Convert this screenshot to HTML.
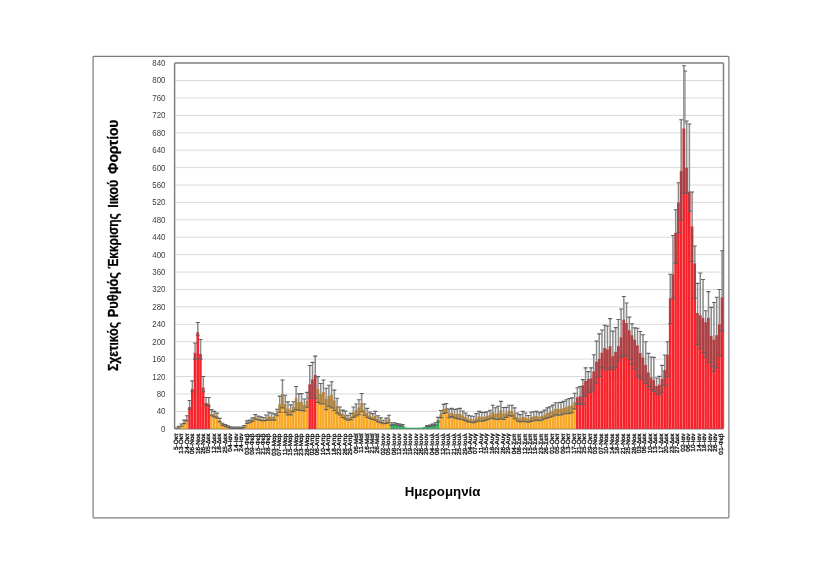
<!DOCTYPE html>
<html><head><meta charset="utf-8"><style>
html,body{margin:0;padding:0;background:#fff;width:825px;height:583px;overflow:hidden}
svg{display:block;will-change:transform}
</style></head><body>
<svg width="825" height="583" viewBox="0 0 825 583">
<rect x="0" y="0" width="825" height="583" fill="#fff"/>
<rect x="93.1" y="56.4" width="635.8" height="461.5" fill="none" stroke="#7c7c7c" stroke-width="1.2" rx="0.8"/>
<g stroke="#dadada" stroke-width="1"><line x1="174.6" y1="411.39" x2="723.5" y2="411.39"/><line x1="174.6" y1="393.97" x2="723.5" y2="393.97"/><line x1="174.6" y1="376.56" x2="723.5" y2="376.56"/><line x1="174.6" y1="359.14" x2="723.5" y2="359.14"/><line x1="174.6" y1="341.73" x2="723.5" y2="341.73"/><line x1="174.6" y1="324.31" x2="723.5" y2="324.31"/><line x1="174.6" y1="306.90" x2="723.5" y2="306.90"/><line x1="174.6" y1="289.49" x2="723.5" y2="289.49"/><line x1="174.6" y1="272.07" x2="723.5" y2="272.07"/><line x1="174.6" y1="254.66" x2="723.5" y2="254.66"/><line x1="174.6" y1="237.24" x2="723.5" y2="237.24"/><line x1="174.6" y1="219.83" x2="723.5" y2="219.83"/><line x1="174.6" y1="202.41" x2="723.5" y2="202.41"/><line x1="174.6" y1="185.00" x2="723.5" y2="185.00"/><line x1="174.6" y1="167.59" x2="723.5" y2="167.59"/><line x1="174.6" y1="150.17" x2="723.5" y2="150.17"/><line x1="174.6" y1="132.76" x2="723.5" y2="132.76"/><line x1="174.6" y1="115.34" x2="723.5" y2="115.34"/><line x1="174.6" y1="97.93" x2="723.5" y2="97.93"/><line x1="174.6" y1="80.51" x2="723.5" y2="80.51"/></g>
<rect x="174.6" y="63.1" width="548.90" height="365.70" fill="none" stroke="#7f7f7f" stroke-width="1.5" rx="1"/>
<g><rect x="174.60" y="428.36" width="2.53" height="0.44" fill="#F9A823"/><rect x="177.33" y="427.06" width="2.53" height="1.74" fill="#F9A823"/><rect x="180.06" y="425.32" width="2.53" height="3.48" fill="#F9A823"/><rect x="182.79" y="422.27" width="2.53" height="6.53" fill="#F9A823"/><rect x="185.52" y="419.22" width="2.53" height="9.58" fill="#F9A823"/><rect x="188.25" y="407.03" width="2.53" height="21.77" fill="#F7222A"/><rect x="190.99" y="388.75" width="2.53" height="40.05" fill="#F7222A"/><rect x="193.72" y="352.61" width="2.53" height="76.19" fill="#F7222A"/><rect x="196.45" y="332.15" width="2.53" height="96.65" fill="#F7222A"/><rect x="199.18" y="353.92" width="2.53" height="74.88" fill="#F7222A"/><rect x="201.91" y="387.44" width="2.53" height="41.36" fill="#F7222A"/><rect x="204.64" y="402.68" width="2.53" height="26.12" fill="#F7222A"/><rect x="207.37" y="403.55" width="2.53" height="25.25" fill="#F7222A"/><rect x="210.10" y="414.00" width="2.53" height="14.80" fill="#F9A823"/><rect x="212.83" y="414.10" width="2.53" height="14.70" fill="#F9A823"/><rect x="215.56" y="415.52" width="2.53" height="13.28" fill="#F9A823"/><rect x="218.29" y="420.09" width="2.53" height="8.71" fill="#F9A823"/><rect x="221.02" y="424.23" width="2.53" height="4.57" fill="#F9A823"/><rect x="223.76" y="425.43" width="2.53" height="3.37" fill="#F9A823"/><rect x="226.49" y="426.49" width="2.53" height="2.31" fill="#F9A823"/><rect x="229.22" y="427.55" width="2.53" height="1.25" fill="#F9A823"/><rect x="231.95" y="427.71" width="2.53" height="1.09" fill="#F9A823"/><rect x="234.68" y="427.71" width="2.53" height="1.09" fill="#F9A823"/><rect x="237.41" y="427.71" width="2.53" height="1.09" fill="#F9A823"/><rect x="240.14" y="427.71" width="2.53" height="1.09" fill="#F9A823"/><rect x="242.87" y="426.38" width="2.53" height="2.42" fill="#F9A823"/><rect x="245.60" y="422.17" width="2.53" height="6.63" fill="#F9A823"/><rect x="248.33" y="421.40" width="2.53" height="7.40" fill="#F9A823"/><rect x="251.06" y="419.63" width="2.53" height="9.17" fill="#F9A823"/><rect x="253.79" y="416.83" width="2.53" height="11.97" fill="#F9A823"/><rect x="256.53" y="417.88" width="2.53" height="10.92" fill="#F9A823"/><rect x="259.26" y="418.65" width="2.53" height="10.15" fill="#F9A823"/><rect x="261.99" y="419.21" width="2.53" height="9.59" fill="#F9A823"/><rect x="264.72" y="417.76" width="2.53" height="11.04" fill="#F9A823"/><rect x="267.45" y="416.17" width="2.53" height="12.63" fill="#F9A823"/><rect x="270.18" y="416.56" width="2.53" height="12.24" fill="#F9A823"/><rect x="272.91" y="416.98" width="2.53" height="11.82" fill="#F9A823"/><rect x="275.64" y="412.47" width="2.53" height="16.33" fill="#F9A823"/><rect x="278.37" y="404.16" width="2.53" height="24.64" fill="#F9A823"/><rect x="281.10" y="393.97" width="2.53" height="34.83" fill="#F9A823"/><rect x="283.83" y="403.87" width="2.53" height="24.93" fill="#F9A823"/><rect x="286.56" y="408.36" width="2.53" height="20.44" fill="#F9A823"/><rect x="289.30" y="409.60" width="2.53" height="19.20" fill="#F9A823"/><rect x="292.03" y="406.73" width="2.53" height="22.07" fill="#F9A823"/><rect x="294.76" y="398.11" width="2.53" height="30.69" fill="#F9A823"/><rect x="297.49" y="402.07" width="2.53" height="26.73" fill="#F9A823"/><rect x="300.22" y="402.03" width="2.53" height="26.77" fill="#F9A823"/><rect x="302.95" y="405.00" width="2.53" height="23.80" fill="#F9A823"/><rect x="305.68" y="400.71" width="2.53" height="28.09" fill="#F9A823"/><rect x="308.41" y="384.30" width="2.53" height="44.50" fill="#F7222A"/><rect x="311.14" y="379.26" width="2.53" height="49.54" fill="#F7222A"/><rect x="313.87" y="374.82" width="2.53" height="53.98" fill="#F7222A"/><rect x="316.60" y="388.80" width="2.53" height="40.00" fill="#F9A823"/><rect x="319.33" y="393.75" width="2.53" height="35.05" fill="#F9A823"/><rect x="322.07" y="392.01" width="2.53" height="36.79" fill="#F9A823"/><rect x="324.80" y="398.93" width="2.53" height="29.87" fill="#F9A823"/><rect x="327.53" y="395.71" width="2.53" height="33.09" fill="#F9A823"/><rect x="330.26" y="394.84" width="2.53" height="33.96" fill="#F9A823"/><rect x="332.99" y="400.30" width="2.53" height="28.50" fill="#F9A823"/><rect x="335.72" y="405.73" width="2.53" height="23.07" fill="#F9A823"/><rect x="338.45" y="410.95" width="2.53" height="17.85" fill="#F9A823"/><rect x="341.18" y="413.84" width="2.53" height="14.96" fill="#F9A823"/><rect x="343.91" y="414.99" width="2.53" height="13.81" fill="#F9A823"/><rect x="346.64" y="417.72" width="2.53" height="11.08" fill="#F9A823"/><rect x="349.37" y="416.50" width="2.53" height="12.30" fill="#F9A823"/><rect x="352.10" y="412.16" width="2.53" height="16.64" fill="#F9A823"/><rect x="354.84" y="409.94" width="2.53" height="18.86" fill="#F9A823"/><rect x="357.57" y="407.27" width="2.53" height="21.53" fill="#F9A823"/><rect x="360.30" y="402.68" width="2.53" height="26.12" fill="#F9A823"/><rect x="363.03" y="409.57" width="2.53" height="19.23" fill="#F9A823"/><rect x="365.76" y="412.84" width="2.53" height="15.96" fill="#F9A823"/><rect x="368.49" y="415.31" width="2.53" height="13.49" fill="#F9A823"/><rect x="371.22" y="416.56" width="2.53" height="12.24" fill="#F9A823"/><rect x="373.95" y="415.74" width="2.53" height="13.06" fill="#F9A823"/><rect x="376.68" y="418.79" width="2.53" height="10.01" fill="#F9A823"/><rect x="379.41" y="420.25" width="2.53" height="8.55" fill="#F9A823"/><rect x="382.14" y="421.98" width="2.53" height="6.82" fill="#F9A823"/><rect x="384.88" y="420.85" width="2.53" height="7.95" fill="#F9A823"/><rect x="387.61" y="419.00" width="2.53" height="9.80" fill="#F9A823"/><rect x="390.34" y="423.94" width="2.53" height="4.86" fill="#2BAA5E"/><rect x="393.07" y="423.79" width="2.53" height="5.01" fill="#2BAA5E"/><rect x="395.80" y="424.42" width="2.53" height="4.38" fill="#2BAA5E"/><rect x="398.53" y="425.01" width="2.53" height="3.79" fill="#2BAA5E"/><rect x="401.26" y="425.32" width="2.53" height="3.48" fill="#2BAA5E"/><rect x="403.99" y="427.28" width="2.53" height="1.52" fill="#2BAA5E"/><rect x="406.72" y="427.60" width="2.53" height="1.20" fill="#2BAA5E"/><rect x="409.45" y="427.69" width="2.53" height="1.11" fill="#2BAA5E"/><rect x="412.18" y="427.64" width="2.53" height="1.16" fill="#2BAA5E"/><rect x="414.91" y="427.60" width="2.53" height="1.20" fill="#2BAA5E"/><rect x="417.65" y="427.55" width="2.53" height="1.25" fill="#2BAA5E"/><rect x="420.38" y="427.51" width="2.53" height="1.29" fill="#2BAA5E"/><rect x="423.11" y="426.92" width="2.53" height="1.88" fill="#2BAA5E"/><rect x="425.84" y="426.11" width="2.53" height="2.69" fill="#2BAA5E"/><rect x="428.57" y="425.66" width="2.53" height="3.14" fill="#2BAA5E"/><rect x="431.30" y="425.10" width="2.53" height="3.70" fill="#2BAA5E"/><rect x="434.03" y="424.01" width="2.53" height="4.79" fill="#2BAA5E"/><rect x="436.76" y="419.68" width="2.53" height="9.12" fill="#2BAA5E"/><rect x="439.49" y="414.04" width="2.53" height="14.76" fill="#F9A823"/><rect x="442.22" y="408.98" width="2.53" height="19.82" fill="#F9A823"/><rect x="444.95" y="408.12" width="2.53" height="20.68" fill="#F9A823"/><rect x="447.68" y="413.42" width="2.53" height="15.38" fill="#F9A823"/><rect x="450.42" y="412.47" width="2.53" height="16.33" fill="#F9A823"/><rect x="453.15" y="413.71" width="2.53" height="15.09" fill="#F9A823"/><rect x="455.88" y="413.78" width="2.53" height="15.02" fill="#F9A823"/><rect x="458.61" y="413.78" width="2.53" height="15.02" fill="#F9A823"/><rect x="461.34" y="415.26" width="2.53" height="13.54" fill="#F9A823"/><rect x="464.07" y="416.91" width="2.53" height="11.89" fill="#F9A823"/><rect x="466.80" y="418.57" width="2.53" height="10.23" fill="#F9A823"/><rect x="469.53" y="419.16" width="2.53" height="9.64" fill="#F9A823"/><rect x="472.26" y="419.45" width="2.53" height="9.35" fill="#F9A823"/><rect x="474.99" y="417.68" width="2.53" height="11.12" fill="#F9A823"/><rect x="477.72" y="416.17" width="2.53" height="12.63" fill="#F9A823"/><rect x="480.45" y="416.85" width="2.53" height="11.95" fill="#F9A823"/><rect x="483.19" y="416.50" width="2.53" height="12.30" fill="#F9A823"/><rect x="485.92" y="415.69" width="2.53" height="13.11" fill="#F9A823"/><rect x="488.65" y="414.50" width="2.53" height="14.30" fill="#F9A823"/><rect x="491.38" y="411.82" width="2.53" height="16.98" fill="#F9A823"/><rect x="494.11" y="413.49" width="2.53" height="15.31" fill="#F9A823"/><rect x="496.84" y="412.79" width="2.53" height="16.01" fill="#F9A823"/><rect x="499.57" y="410.08" width="2.53" height="18.72" fill="#F9A823"/><rect x="502.30" y="413.47" width="2.53" height="15.33" fill="#F9A823"/><rect x="505.03" y="412.41" width="2.53" height="16.39" fill="#F9A823"/><rect x="507.76" y="410.48" width="2.53" height="18.32" fill="#F9A823"/><rect x="510.49" y="410.73" width="2.53" height="18.07" fill="#F9A823"/><rect x="513.22" y="413.27" width="2.53" height="15.53" fill="#F9A823"/><rect x="515.96" y="417.05" width="2.53" height="11.75" fill="#F9A823"/><rect x="518.69" y="418.34" width="2.53" height="10.46" fill="#F9A823"/><rect x="521.42" y="416.39" width="2.53" height="12.41" fill="#F9A823"/><rect x="524.15" y="417.38" width="2.53" height="11.42" fill="#F9A823"/><rect x="526.88" y="418.84" width="2.53" height="9.96" fill="#F9A823"/><rect x="529.61" y="416.83" width="2.53" height="11.97" fill="#F9A823"/><rect x="532.34" y="416.27" width="2.53" height="12.53" fill="#F9A823"/><rect x="535.07" y="415.74" width="2.53" height="13.06" fill="#F9A823"/><rect x="537.80" y="416.77" width="2.53" height="12.03" fill="#F9A823"/><rect x="540.53" y="415.91" width="2.53" height="12.89" fill="#F9A823"/><rect x="543.26" y="414.38" width="2.53" height="14.42" fill="#F9A823"/><rect x="546.00" y="412.91" width="2.53" height="15.89" fill="#F9A823"/><rect x="548.73" y="412.00" width="2.53" height="16.80" fill="#F9A823"/><rect x="551.46" y="410.68" width="2.53" height="18.12" fill="#F9A823"/><rect x="554.19" y="408.77" width="2.53" height="20.03" fill="#F9A823"/><rect x="556.92" y="408.90" width="2.53" height="19.90" fill="#F9A823"/><rect x="559.65" y="408.66" width="2.53" height="20.14" fill="#F9A823"/><rect x="562.38" y="407.69" width="2.53" height="21.11" fill="#F9A823"/><rect x="565.11" y="406.74" width="2.53" height="22.06" fill="#F9A823"/><rect x="567.84" y="405.94" width="2.53" height="22.86" fill="#F9A823"/><rect x="570.57" y="405.29" width="2.53" height="23.51" fill="#F9A823"/><rect x="573.30" y="401.70" width="2.53" height="27.10" fill="#F9A823"/><rect x="576.03" y="397.30" width="2.53" height="31.50" fill="#F7222A"/><rect x="578.77" y="396.15" width="2.53" height="32.65" fill="#F7222A"/><rect x="581.50" y="385.26" width="2.53" height="43.54" fill="#F7222A"/><rect x="584.23" y="380.91" width="2.53" height="47.89" fill="#F7222A"/><rect x="586.96" y="379.03" width="2.53" height="49.77" fill="#F7222A"/><rect x="589.69" y="378.30" width="2.53" height="50.50" fill="#F7222A"/><rect x="592.42" y="371.33" width="2.53" height="57.47" fill="#F7222A"/><rect x="595.15" y="361.56" width="2.53" height="67.24" fill="#F7222A"/><rect x="597.88" y="359.03" width="2.53" height="69.77" fill="#F7222A"/><rect x="600.61" y="352.61" width="2.53" height="76.19" fill="#F7222A"/><rect x="603.34" y="347.82" width="2.53" height="80.98" fill="#F7222A"/><rect x="606.07" y="349.29" width="2.53" height="79.51" fill="#F7222A"/><rect x="608.80" y="346.08" width="2.53" height="82.72" fill="#F7222A"/><rect x="611.54" y="356.19" width="2.53" height="72.61" fill="#F7222A"/><rect x="614.27" y="351.87" width="2.53" height="76.93" fill="#F7222A"/><rect x="617.00" y="346.08" width="2.53" height="82.72" fill="#F7222A"/><rect x="619.73" y="337.32" width="2.53" height="91.48" fill="#F7222A"/><rect x="622.46" y="319.53" width="2.53" height="109.27" fill="#F7222A"/><rect x="625.19" y="323.05" width="2.53" height="105.75" fill="#F7222A"/><rect x="627.92" y="330.18" width="2.53" height="98.62" fill="#F7222A"/><rect x="630.65" y="335.16" width="2.53" height="93.64" fill="#F7222A"/><rect x="633.38" y="339.58" width="2.53" height="89.22" fill="#F7222A"/><rect x="636.11" y="345.28" width="2.53" height="83.52" fill="#F7222A"/><rect x="638.84" y="352.86" width="2.53" height="75.94" fill="#F7222A"/><rect x="641.57" y="357.40" width="2.53" height="71.40" fill="#F7222A"/><rect x="644.31" y="364.80" width="2.53" height="64.00" fill="#F7222A"/><rect x="647.04" y="372.37" width="2.53" height="56.43" fill="#F7222A"/><rect x="649.77" y="377.34" width="2.53" height="51.46" fill="#F7222A"/><rect x="652.50" y="380.04" width="2.53" height="48.76" fill="#F7222A"/><rect x="655.23" y="385.86" width="2.53" height="42.94" fill="#F7222A"/><rect x="657.96" y="384.48" width="2.53" height="44.32" fill="#F7222A"/><rect x="660.69" y="378.87" width="2.53" height="49.93" fill="#F7222A"/><rect x="663.42" y="369.98" width="2.53" height="58.82" fill="#F7222A"/><rect x="666.15" y="354.79" width="2.53" height="74.01" fill="#F7222A"/><rect x="668.88" y="298.19" width="2.53" height="130.61" fill="#F7222A"/><rect x="671.61" y="274.25" width="2.53" height="154.55" fill="#F7222A"/><rect x="674.34" y="232.89" width="2.53" height="195.91" fill="#F7222A"/><rect x="677.08" y="202.41" width="2.53" height="226.39" fill="#F7222A"/><rect x="679.81" y="171.07" width="2.53" height="257.73" fill="#F7222A"/><rect x="682.54" y="128.40" width="2.53" height="300.40" fill="#F7222A"/><rect x="685.27" y="167.59" width="2.53" height="261.21" fill="#F7222A"/><rect x="688.00" y="191.53" width="2.53" height="237.27" fill="#F7222A"/><rect x="690.73" y="226.36" width="2.53" height="202.44" fill="#F7222A"/><rect x="693.46" y="263.36" width="2.53" height="165.44" fill="#F7222A"/><rect x="696.19" y="313.00" width="2.53" height="115.80" fill="#F7222A"/><rect x="698.92" y="315.17" width="2.53" height="113.63" fill="#F7222A"/><rect x="701.65" y="317.78" width="2.53" height="111.02" fill="#F7222A"/><rect x="704.38" y="322.14" width="2.53" height="106.66" fill="#F7222A"/><rect x="707.11" y="317.78" width="2.53" height="111.02" fill="#F7222A"/><rect x="709.85" y="335.63" width="2.53" height="93.17" fill="#F7222A"/><rect x="712.58" y="339.55" width="2.53" height="89.25" fill="#F7222A"/><rect x="715.31" y="335.20" width="2.53" height="93.60" fill="#F7222A"/><rect x="718.04" y="324.31" width="2.53" height="104.49" fill="#F7222A"/><rect x="720.77" y="297.32" width="2.53" height="131.48" fill="#F7222A"/></g>
<path d="M175.97 428.80V428.36M178.70 427.93V427.06M181.43 426.19V425.32M184.16 423.58V422.27M186.89 420.96V419.22M189.62 409.21V407.03M192.35 391.79V388.75M195.08 359.14V352.61M197.81 335.20V332.15M200.54 359.14V353.92M203.27 391.79V387.44M206.00 404.86V402.68M208.74 406.16V403.55M211.47 415.74V414.00M214.20 416.83V414.10M216.93 417.92V415.52M219.66 421.83V420.09M222.39 425.14V424.23M225.12 426.23V425.43M227.85 427.22V426.49M230.58 428.21V427.55M233.31 428.36V427.71M236.04 428.36V427.71M238.77 428.36V427.71M241.51 428.36V427.71M244.24 427.19V426.38M246.97 423.48V422.17M249.70 422.70V421.40M252.43 421.35V419.63M255.16 419.22V416.83M257.89 419.82V417.88M260.62 420.39V418.65M263.35 420.95V419.21M266.08 420.55V417.76M268.81 420.09V416.17M271.55 420.09V416.56M274.28 420.09V416.98M277.01 415.74V412.47M279.74 412.22V404.16M282.47 407.90V393.97M285.20 412.51V403.87M287.93 414.87V408.36M290.66 414.87V409.60M293.39 411.67V406.73M296.12 409.64V398.11M298.85 410.31V402.07M301.58 410.51V402.03M304.32 410.94V405.00M307.05 407.23V400.71M309.78 398.32V384.30M312.51 398.32V379.26M315.24 398.32V374.82M317.97 402.36V388.80M320.70 403.98V393.75M323.43 403.98V392.01M326.16 409.60V398.93M328.89 406.16V395.71M331.62 407.90V394.84M334.35 410.52V400.30M337.09 413.13V405.73M339.82 414.87V410.95M342.55 417.56V413.84M345.28 418.85V414.99M348.01 420.24V417.72M350.74 419.59V416.50M353.47 417.37V412.16M356.20 415.93V409.94M358.93 414.74V407.27M361.66 411.82V402.68M364.39 415.18V409.57M367.12 417.28V412.84M369.86 418.57V415.31M372.59 419.54V416.56M375.32 420.09V415.74M378.05 421.83V418.79M380.78 422.67V420.25M383.51 423.71V421.98M386.24 423.56V420.85M388.97 422.70V419.00M391.70 425.18V423.94M394.43 424.88V423.79M397.16 425.30V424.42M399.89 425.88V425.01M402.63 426.19V425.32M427.20 426.58V426.11M429.93 426.36V425.66M432.66 426.04V425.10M435.40 425.32V424.01M438.13 421.97V419.68M440.86 417.61V414.04M443.59 413.55V408.98M446.32 412.69V408.12M449.05 417.74V413.42M451.78 416.61V412.47M454.51 417.84V413.71M457.24 418.64V413.78M459.97 419.22V413.78M462.70 419.59V415.26M465.44 420.65V416.91M468.17 421.83V418.57M470.90 422.31V419.16M473.63 422.60V419.45M476.36 421.72V417.68M479.09 420.96V416.17M481.82 421.30V416.85M484.55 420.67V416.50M487.28 419.59V415.69M490.01 418.71V414.50M492.74 418.35V411.82M495.47 419.19V413.49M498.21 419.33V412.79M500.94 418.79V410.08M503.67 419.43V413.47M506.40 417.42V412.41M509.13 415.67V410.48M511.86 416.17V410.73M514.59 418.72V413.27M517.32 421.07V417.05M520.05 422.05V418.34M522.78 421.40V416.39M525.51 421.73V417.38M528.24 422.21V418.84M530.98 421.40V416.83M533.71 420.73V416.27M536.44 420.09V415.74M539.17 420.78V416.77M541.90 419.93V415.91M544.63 418.65V414.38M547.36 417.92V412.91M550.09 417.23V412.00M552.82 416.25V410.68M555.55 414.87V408.77M558.28 415.12V408.90M561.01 414.97V408.66M563.75 414.00V407.69M566.48 413.73V406.74M569.21 413.34V405.94M571.94 412.69V405.29M574.67 408.90V401.70M577.40 404.42V397.30M580.13 404.42V396.15M582.86 404.42V385.26M585.59 396.15V380.91M588.32 392.38V379.03M591.05 391.79V378.30M593.78 389.18V371.33M596.52 383.00V361.56M599.25 376.41V359.03M601.98 367.85V352.61M604.71 370.03V347.82M607.44 369.45V349.29M610.17 367.85V346.08M612.90 369.64V356.19M615.63 367.11V351.87M618.36 361.32V346.08M621.09 357.23V337.32M623.82 355.66V319.53M626.55 356.47V323.05M629.29 359.74V330.18M632.02 364.52V335.16M634.75 369.11V339.58M637.48 376.12V345.28M640.21 378.09V352.86M642.94 380.04V357.40M645.67 383.52V364.80M648.40 386.62V372.37M651.13 389.49V377.34M653.86 391.36V380.04M656.59 394.44V385.86M659.33 394.68V384.48M662.06 392.24V378.87M664.79 385.13V369.98M667.52 376.56V354.79M670.25 323.44V298.19M672.98 298.19V274.25M675.71 263.36V232.89M678.44 232.89V202.41M681.17 219.83V171.07M683.90 193.27V128.40M686.63 193.27V167.59M689.36 211.12V191.53M692.10 261.19V226.36M694.83 298.19V263.36M697.56 344.34V313.00M700.29 348.69V315.17M703.02 352.61V317.78M705.75 356.97V322.14M708.48 362.19V317.78M711.21 366.54V335.63M713.94 371.33V339.55M716.67 367.85V335.20M719.40 355.66V324.31M722.13 330.84V297.32" stroke="#606060" stroke-opacity="0.5" stroke-width="2.5" fill="none"/>
<path d="M175.97 428.36V427.93M178.70 427.06V426.19M181.43 425.32V424.01M184.16 422.27V420.09M186.89 419.22V415.74M189.62 407.03V400.50M192.35 388.75V380.91M195.08 352.61V343.03M197.81 332.15V322.57M200.54 353.92V339.55M203.27 387.44V376.56M206.00 402.68V397.45M208.74 403.55V397.45M211.47 414.00V409.64M214.20 414.10V411.38M216.93 415.52V413.13M219.66 420.09V418.35M222.39 424.23V423.31M225.12 425.43V424.62M227.85 426.49V425.75M230.58 427.55V426.89M233.31 427.71V427.06M236.04 427.71V427.06M238.77 427.71V427.06M241.51 427.71V427.06M244.24 426.38V425.56M246.97 422.17V420.87M249.70 421.40V420.09M252.43 419.63V417.90M255.16 416.83V414.43M257.89 417.88V415.93M260.62 418.65V416.90M263.35 419.21V417.47M266.08 417.76V414.98M268.81 416.17V412.26M271.55 416.56V413.03M274.28 416.98V413.87M277.01 412.47V409.21M279.74 404.16V396.11M282.47 393.97V380.04M285.20 403.87V395.24M287.93 408.36V401.86M290.66 409.60V404.86M293.39 406.73V401.79M296.12 398.11V386.57M298.85 402.07V393.84M301.58 402.03V393.54M304.32 405.00V399.07M307.05 400.71V392.38M309.78 384.30V365.43M312.51 379.26V362.39M315.24 374.82V356.10M317.97 388.80V376.60M320.70 393.75V383.52M323.43 392.01V380.04M326.16 398.93V388.27M328.89 395.71V385.26M331.62 394.84V381.78M334.35 400.30V390.08M337.09 405.73V398.32M339.82 410.95V407.03M342.55 413.84V410.11M345.28 414.99V411.13M348.01 417.72V415.20M350.74 416.50V413.41M353.47 412.16V406.95M356.20 409.94V403.96M358.93 407.27V399.80M361.66 402.68V393.54M364.39 409.57V403.96M367.12 412.84V408.41M369.86 415.31V412.05M372.59 416.56V413.58M375.32 415.74V411.39M378.05 418.79V415.74M380.78 420.25V417.83M383.51 421.98V420.26M386.24 420.85V418.14M388.97 419.00V415.30M391.70 423.94V422.70M394.43 423.79V422.70M397.16 424.42V423.55M399.89 425.01V424.14M402.63 425.32V424.45M427.20 426.11V425.63M429.93 425.66V424.96M432.66 425.10V424.16M435.40 424.01V422.70M438.13 419.68V417.39M440.86 414.04V410.47M443.59 408.98V404.41M446.32 408.12V403.55M449.05 413.42V409.09M451.78 412.47V408.34M454.51 413.71V409.57M457.24 413.78V408.92M459.97 413.78V408.34M462.70 415.26V410.93M465.44 416.91V413.17M468.17 418.57V415.30M470.90 419.16V416.02M473.63 419.45V416.29M476.36 417.68V413.65M479.09 416.17V411.39M481.82 416.85V412.40M484.55 416.50V412.33M487.28 415.69V411.79M490.01 414.50V410.30M492.74 411.82V405.29M495.47 413.49V407.80M498.21 412.79V406.26M500.94 410.08V401.37M503.67 413.47V407.51M506.40 412.41V407.40M509.13 410.48V405.29M511.86 410.73V405.29M514.59 413.27V407.83M517.32 417.05V413.04M520.05 418.34V414.63M522.78 416.39V411.39M525.51 417.38V413.03M528.24 418.84V415.48M530.98 416.83V412.26M533.71 416.27V411.81M536.44 415.74V411.39M539.17 416.77V412.76M541.90 415.91V411.89M544.63 414.38V410.10M547.36 412.91V407.90M550.09 412.00V406.76M552.82 410.68V405.10M555.55 408.77V402.68M558.28 408.90V402.68M561.01 408.66V402.35M563.75 407.69V401.37M566.48 406.74V399.76M569.21 405.94V398.54M571.94 405.29V397.89M574.67 401.70V393.30M577.40 397.30V387.72M580.13 396.15V386.57M582.86 385.26V379.60M585.59 380.91V367.85M588.32 379.03V371.62M591.05 378.30V367.85M593.78 371.33V354.79M596.52 361.56V341.15M599.25 359.03V333.83M601.98 352.61V329.97M604.71 347.82V325.19M607.44 349.29V326.02M610.17 346.08V318.65M612.90 356.19V331.17M615.63 351.87V327.63M618.36 346.08V319.53M621.09 337.32V309.02M623.82 319.53V296.45M626.55 323.05V302.95M629.29 330.18V317.17M632.02 335.16V323.81M634.75 339.58V327.90M637.48 345.28V328.23M640.21 352.86V331.52M642.94 357.40V334.76M645.67 364.80V341.73M648.40 372.37V353.42M651.13 377.34V356.99M653.86 380.04V357.40M656.59 385.86V377.93M659.33 384.48V376.41M662.06 378.87V365.40M664.79 369.98V355.07M667.52 354.79V341.73M670.25 298.19V274.25M672.98 274.25V235.50M675.71 232.89V209.82M678.44 202.41V182.82M681.17 171.07V119.70M683.90 128.40V65.71M686.63 167.59V121.00M689.36 191.53V124.05M692.10 226.36V191.97M694.83 263.36V245.95M697.56 313.00V283.39M700.29 315.17V272.94M703.02 317.78V279.47M705.75 322.14V310.82M708.48 317.78V291.66M711.21 335.63V307.34M713.94 339.55V302.55M716.67 335.20V297.32M719.40 324.31V289.49M722.13 297.32V250.74" stroke="#8a8a8a" stroke-width="1.5" fill="none"/>
<path d="M173.97 427.93h4.0M176.70 426.19h4.0M176.70 427.93h4.0M179.43 424.01h4.0M179.43 426.19h4.0M182.16 420.09h4.0M182.16 423.58h4.0M184.89 415.74h4.0M184.89 420.96h4.0M187.62 400.50h4.0M187.62 409.21h4.0M190.35 380.91h4.0M190.35 391.79h4.0M193.08 343.03h4.0M193.08 359.14h4.0M195.81 322.57h4.0M195.81 335.20h4.0M198.54 339.55h4.0M198.54 359.14h4.0M201.27 376.56h4.0M201.27 391.79h4.0M204.00 397.45h4.0M204.00 404.86h4.0M206.74 397.45h4.0M206.74 406.16h4.0M209.47 409.64h4.0M209.47 415.74h4.0M212.20 411.38h4.0M212.20 416.83h4.0M214.93 413.13h4.0M214.93 417.92h4.0M217.66 418.35h4.0M217.66 421.83h4.0M220.39 423.31h4.0M220.39 425.14h4.0M223.12 424.62h4.0M223.12 426.23h4.0M225.85 425.75h4.0M225.85 427.22h4.0M228.58 426.89h4.0M228.58 428.21h4.0M231.31 427.06h4.0M231.31 428.36h4.0M234.04 427.06h4.0M234.04 428.36h4.0M236.77 427.06h4.0M236.77 428.36h4.0M239.51 427.06h4.0M239.51 428.36h4.0M242.24 425.56h4.0M242.24 427.19h4.0M244.97 420.87h4.0M244.97 423.48h4.0M247.70 420.09h4.0M247.70 422.70h4.0M250.43 417.90h4.0M250.43 421.35h4.0M253.16 414.43h4.0M253.16 419.22h4.0M255.89 415.93h4.0M255.89 419.82h4.0M258.62 416.90h4.0M258.62 420.39h4.0M261.35 417.47h4.0M261.35 420.95h4.0M264.08 414.98h4.0M264.08 420.55h4.0M266.81 412.26h4.0M266.81 420.09h4.0M269.55 413.03h4.0M269.55 420.09h4.0M272.28 413.87h4.0M272.28 420.09h4.0M275.01 409.21h4.0M275.01 415.74h4.0M277.74 396.11h4.0M277.74 412.22h4.0M280.47 380.04h4.0M280.47 407.90h4.0M283.20 395.24h4.0M283.20 412.51h4.0M285.93 401.86h4.0M285.93 414.87h4.0M288.66 404.86h4.0M288.66 414.87h4.0M291.39 401.79h4.0M291.39 411.67h4.0M294.12 386.57h4.0M294.12 409.64h4.0M296.85 393.84h4.0M296.85 410.31h4.0M299.58 393.54h4.0M299.58 410.51h4.0M302.32 399.07h4.0M302.32 410.94h4.0M305.05 392.38h4.0M305.05 407.23h4.0M307.78 365.43h4.0M307.78 398.32h4.0M310.51 362.39h4.0M310.51 398.32h4.0M313.24 356.10h4.0M313.24 398.32h4.0M315.97 376.60h4.0M315.97 402.36h4.0M318.70 383.52h4.0M318.70 403.98h4.0M321.43 380.04h4.0M321.43 403.98h4.0M324.16 388.27h4.0M324.16 409.60h4.0M326.89 385.26h4.0M326.89 406.16h4.0M329.62 381.78h4.0M329.62 407.90h4.0M332.35 390.08h4.0M332.35 410.52h4.0M335.09 398.32h4.0M335.09 413.13h4.0M337.82 407.03h4.0M337.82 414.87h4.0M340.55 410.11h4.0M340.55 417.56h4.0M343.28 411.13h4.0M343.28 418.85h4.0M346.01 415.20h4.0M346.01 420.24h4.0M348.74 413.41h4.0M348.74 419.59h4.0M351.47 406.95h4.0M351.47 417.37h4.0M354.20 403.96h4.0M354.20 415.93h4.0M356.93 399.80h4.0M356.93 414.74h4.0M359.66 393.54h4.0M359.66 411.82h4.0M362.39 403.96h4.0M362.39 415.18h4.0M365.12 408.41h4.0M365.12 417.28h4.0M367.86 412.05h4.0M367.86 418.57h4.0M370.59 413.58h4.0M370.59 419.54h4.0M373.32 411.39h4.0M373.32 420.09h4.0M376.05 415.74h4.0M376.05 421.83h4.0M378.78 417.83h4.0M378.78 422.67h4.0M381.51 420.26h4.0M381.51 423.71h4.0M384.24 418.14h4.0M384.24 423.56h4.0M386.97 415.30h4.0M386.97 422.70h4.0M389.70 422.70h4.0M389.70 425.18h4.0M392.43 422.70h4.0M392.43 424.88h4.0M395.16 423.55h4.0M395.16 425.30h4.0M397.89 424.14h4.0M397.89 425.88h4.0M400.63 424.45h4.0M400.63 426.19h4.0M425.20 425.63h4.0M425.20 426.58h4.0M427.93 424.96h4.0M427.93 426.36h4.0M430.66 424.16h4.0M430.66 426.04h4.0M433.40 422.70h4.0M433.40 425.32h4.0M436.13 417.39h4.0M436.13 421.97h4.0M438.86 410.47h4.0M438.86 417.61h4.0M441.59 404.41h4.0M441.59 413.55h4.0M444.32 403.55h4.0M444.32 412.69h4.0M447.05 409.09h4.0M447.05 417.74h4.0M449.78 408.34h4.0M449.78 416.61h4.0M452.51 409.57h4.0M452.51 417.84h4.0M455.24 408.92h4.0M455.24 418.64h4.0M457.97 408.34h4.0M457.97 419.22h4.0M460.70 410.93h4.0M460.70 419.59h4.0M463.44 413.17h4.0M463.44 420.65h4.0M466.17 415.30h4.0M466.17 421.83h4.0M468.90 416.02h4.0M468.90 422.31h4.0M471.63 416.29h4.0M471.63 422.60h4.0M474.36 413.65h4.0M474.36 421.72h4.0M477.09 411.39h4.0M477.09 420.96h4.0M479.82 412.40h4.0M479.82 421.30h4.0M482.55 412.33h4.0M482.55 420.67h4.0M485.28 411.79h4.0M485.28 419.59h4.0M488.01 410.30h4.0M488.01 418.71h4.0M490.74 405.29h4.0M490.74 418.35h4.0M493.47 407.80h4.0M493.47 419.19h4.0M496.21 406.26h4.0M496.21 419.33h4.0M498.94 401.37h4.0M498.94 418.79h4.0M501.67 407.51h4.0M501.67 419.43h4.0M504.40 407.40h4.0M504.40 417.42h4.0M507.13 405.29h4.0M507.13 415.67h4.0M509.86 405.29h4.0M509.86 416.17h4.0M512.59 407.83h4.0M512.59 418.72h4.0M515.32 413.04h4.0M515.32 421.07h4.0M518.05 414.63h4.0M518.05 422.05h4.0M520.78 411.39h4.0M520.78 421.40h4.0M523.51 413.03h4.0M523.51 421.73h4.0M526.24 415.48h4.0M526.24 422.21h4.0M528.98 412.26h4.0M528.98 421.40h4.0M531.71 411.81h4.0M531.71 420.73h4.0M534.44 411.39h4.0M534.44 420.09h4.0M537.17 412.76h4.0M537.17 420.78h4.0M539.90 411.89h4.0M539.90 419.93h4.0M542.63 410.10h4.0M542.63 418.65h4.0M545.36 407.90h4.0M545.36 417.92h4.0M548.09 406.76h4.0M548.09 417.23h4.0M550.82 405.10h4.0M550.82 416.25h4.0M553.55 402.68h4.0M553.55 414.87h4.0M556.28 402.68h4.0M556.28 415.12h4.0M559.01 402.35h4.0M559.01 414.97h4.0M561.75 401.37h4.0M561.75 414.00h4.0M564.48 399.76h4.0M564.48 413.73h4.0M567.21 398.54h4.0M567.21 413.34h4.0M569.94 397.89h4.0M569.94 412.69h4.0M572.67 393.30h4.0M572.67 408.90h4.0M575.40 387.72h4.0M575.40 404.42h4.0M578.13 386.57h4.0M578.13 404.42h4.0M580.86 379.60h4.0M580.86 404.42h4.0M583.59 367.85h4.0M583.59 396.15h4.0M586.32 371.62h4.0M586.32 392.38h4.0M589.05 367.85h4.0M589.05 391.79h4.0M591.78 354.79h4.0M591.78 389.18h4.0M594.52 341.15h4.0M594.52 383.00h4.0M597.25 333.83h4.0M597.25 376.41h4.0M599.98 329.97h4.0M599.98 367.85h4.0M602.71 325.19h4.0M602.71 370.03h4.0M605.44 326.02h4.0M605.44 369.45h4.0M608.17 318.65h4.0M608.17 367.85h4.0M610.90 331.17h4.0M610.90 369.64h4.0M613.63 327.63h4.0M613.63 367.11h4.0M616.36 319.53h4.0M616.36 361.32h4.0M619.09 309.02h4.0M619.09 357.23h4.0M621.82 296.45h4.0M621.82 355.66h4.0M624.55 302.95h4.0M624.55 356.47h4.0M627.29 317.17h4.0M627.29 359.74h4.0M630.02 323.81h4.0M630.02 364.52h4.0M632.75 327.90h4.0M632.75 369.11h4.0M635.48 328.23h4.0M635.48 376.12h4.0M638.21 331.52h4.0M638.21 378.09h4.0M640.94 334.76h4.0M640.94 380.04h4.0M643.67 341.73h4.0M643.67 383.52h4.0M646.40 353.42h4.0M646.40 386.62h4.0M649.13 356.99h4.0M649.13 389.49h4.0M651.86 357.40h4.0M651.86 391.36h4.0M654.59 377.93h4.0M654.59 394.44h4.0M657.33 376.41h4.0M657.33 394.68h4.0M660.06 365.40h4.0M660.06 392.24h4.0M662.79 355.07h4.0M662.79 385.13h4.0M665.52 341.73h4.0M665.52 376.56h4.0M668.25 274.25h4.0M668.25 323.44h4.0M670.98 235.50h4.0M670.98 298.19h4.0M673.71 209.82h4.0M673.71 263.36h4.0M676.44 182.82h4.0M676.44 232.89h4.0M679.17 119.70h4.0M679.17 219.83h4.0M681.90 65.71h4.0M681.90 193.27h4.0M684.63 121.00h4.0M684.63 193.27h4.0M687.36 124.05h4.0M687.36 211.12h4.0M690.10 191.97h4.0M690.10 261.19h4.0M692.83 245.95h4.0M692.83 298.19h4.0M695.56 283.39h4.0M695.56 344.34h4.0M698.29 272.94h4.0M698.29 348.69h4.0M701.02 279.47h4.0M701.02 352.61h4.0M703.75 310.82h4.0M703.75 356.97h4.0M706.48 291.66h4.0M706.48 362.19h4.0M709.21 307.34h4.0M709.21 366.54h4.0M711.94 302.55h4.0M711.94 371.33h4.0M714.67 297.32h4.0M714.67 367.85h4.0M717.40 289.49h4.0M717.40 355.66h4.0M720.13 250.74h4.0M720.13 330.84h4.0M683.60 70.94h3.6" stroke="#606060" stroke-width="1.1" fill="none"/>
<path d="M685.20 70.94V124.05" stroke="#737373" stroke-opacity="0.55" stroke-width="1.4" fill="none"/>
<g transform="translate(165.5,0) scale(0.94,1)" font-family="Liberation Sans, sans-serif" font-size="8.4" fill="#404040" text-anchor="end"><text x="0" y="431.80">0</text><text x="0" y="414.39">40</text><text x="0" y="396.97">80</text><text x="0" y="379.56">120</text><text x="0" y="362.14">160</text><text x="0" y="344.73">200</text><text x="0" y="327.31">240</text><text x="0" y="309.90">280</text><text x="0" y="292.49">320</text><text x="0" y="275.07">360</text><text x="0" y="257.66">400</text><text x="0" y="240.24">440</text><text x="0" y="222.83">480</text><text x="0" y="205.41">520</text><text x="0" y="188.00">560</text><text x="0" y="170.59">600</text><text x="0" y="153.17">640</text><text x="0" y="135.76">680</text><text x="0" y="118.34">720</text><text x="0" y="100.93">760</text><text x="0" y="83.51">800</text><text x="0" y="66.10">840</text></g>
<g font-family="Liberation Sans, sans-serif" font-size="6" fill="#111" stroke="#111" stroke-width="0.3" text-anchor="end" text-rendering="geometricPrecision"><text transform="translate(177.80,433.5) rotate(-90) scale(1.08,1)">5-Οκτ</text><text transform="translate(183.25,433.5) rotate(-90) scale(1.08,1)">13-Οκτ</text><text transform="translate(188.70,433.5) rotate(-90) scale(1.08,1)">24-Οκτ</text><text transform="translate(194.15,433.5) rotate(-90) scale(1.08,1)">06-Νοε</text><text transform="translate(199.60,433.5) rotate(-90) scale(1.08,1)">16-Νοε</text><text transform="translate(205.04,433.5) rotate(-90) scale(1.08,1)">26-Νοε</text><text transform="translate(210.49,433.5) rotate(-90) scale(1.08,1)">05-Δεκ</text><text transform="translate(215.94,433.5) rotate(-90) scale(1.08,1)">12-Δεκ</text><text transform="translate(221.39,433.5) rotate(-90) scale(1.08,1)">18-Δεκ</text><text transform="translate(226.84,433.5) rotate(-90) scale(1.08,1)">25-Δεκ</text><text transform="translate(232.29,433.5) rotate(-90) scale(1.08,1)">04-Ιαν</text><text transform="translate(237.74,433.5) rotate(-90) scale(1.08,1)">14-Ιαν</text><text transform="translate(243.19,433.5) rotate(-90) scale(1.08,1)">24-Ιαν</text><text transform="translate(248.64,433.5) rotate(-90) scale(1.08,1)">03-Φεβ</text><text transform="translate(254.09,433.5) rotate(-90) scale(1.08,1)">09-Φεβ</text><text transform="translate(259.53,433.5) rotate(-90) scale(1.08,1)">15-Φεβ</text><text transform="translate(264.98,433.5) rotate(-90) scale(1.08,1)">21-Φεβ</text><text transform="translate(270.43,433.5) rotate(-90) scale(1.08,1)">28-Φεβ</text><text transform="translate(275.88,433.5) rotate(-90) scale(1.08,1)">03-Μαρ</text><text transform="translate(281.33,433.5) rotate(-90) scale(1.08,1)">07-Μαρ</text><text transform="translate(286.78,433.5) rotate(-90) scale(1.08,1)">11-Μαρ</text><text transform="translate(292.23,433.5) rotate(-90) scale(1.08,1)">15-Μαρ</text><text transform="translate(297.68,433.5) rotate(-90) scale(1.08,1)">19-Μαρ</text><text transform="translate(303.13,433.5) rotate(-90) scale(1.08,1)">23-Μαρ</text><text transform="translate(308.58,433.5) rotate(-90) scale(1.08,1)">28-Μαρ</text><text transform="translate(314.02,433.5) rotate(-90) scale(1.08,1)">02-Απρ</text><text transform="translate(319.47,433.5) rotate(-90) scale(1.08,1)">06-Απρ</text><text transform="translate(324.92,433.5) rotate(-90) scale(1.08,1)">10-Απρ</text><text transform="translate(330.37,433.5) rotate(-90) scale(1.08,1)">14-Απρ</text><text transform="translate(335.82,433.5) rotate(-90) scale(1.08,1)">18-Απρ</text><text transform="translate(341.27,433.5) rotate(-90) scale(1.08,1)">22-Απρ</text><text transform="translate(346.72,433.5) rotate(-90) scale(1.08,1)">26-Απρ</text><text transform="translate(352.17,433.5) rotate(-90) scale(1.08,1)">29-Απρ</text><text transform="translate(357.62,433.5) rotate(-90) scale(1.08,1)">06-Μαϊ</text><text transform="translate(363.07,433.5) rotate(-90) scale(1.08,1)">11-Μαϊ</text><text transform="translate(368.51,433.5) rotate(-90) scale(1.08,1)">16-Μαϊ</text><text transform="translate(373.96,433.5) rotate(-90) scale(1.08,1)">21-Μαϊ</text><text transform="translate(379.41,433.5) rotate(-90) scale(1.08,1)">26-Μαϊ</text><text transform="translate(384.86,433.5) rotate(-90) scale(1.08,1)">02-Ιουν</text><text transform="translate(390.31,433.5) rotate(-90) scale(1.08,1)">05-Ιουν</text><text transform="translate(395.76,433.5) rotate(-90) scale(1.08,1)">08-Ιουν</text><text transform="translate(401.21,433.5) rotate(-90) scale(1.08,1)">12-Ιουν</text><text transform="translate(406.66,433.5) rotate(-90) scale(1.08,1)">15-Ιουν</text><text transform="translate(412.11,433.5) rotate(-90) scale(1.08,1)">19-Ιουν</text><text transform="translate(417.56,433.5) rotate(-90) scale(1.08,1)">22-Ιουν</text><text transform="translate(423.00,433.5) rotate(-90) scale(1.08,1)">26-Ιουν</text><text transform="translate(428.45,433.5) rotate(-90) scale(1.08,1)">29-Ιουν</text><text transform="translate(433.90,433.5) rotate(-90) scale(1.08,1)">04-Ιουλ</text><text transform="translate(439.35,433.5) rotate(-90) scale(1.08,1)">08-Ιουλ</text><text transform="translate(444.80,433.5) rotate(-90) scale(1.08,1)">12-Ιουλ</text><text transform="translate(450.25,433.5) rotate(-90) scale(1.08,1)">17-Ιουλ</text><text transform="translate(455.70,433.5) rotate(-90) scale(1.08,1)">21-Ιουλ</text><text transform="translate(461.15,433.5) rotate(-90) scale(1.08,1)">25-Ιουλ</text><text transform="translate(466.60,433.5) rotate(-90) scale(1.08,1)">29-Ιουλ</text><text transform="translate(472.05,433.5) rotate(-90) scale(1.08,1)">04-Αυγ</text><text transform="translate(477.49,433.5) rotate(-90) scale(1.08,1)">07-Αυγ</text><text transform="translate(482.94,433.5) rotate(-90) scale(1.08,1)">11-Αυγ</text><text transform="translate(488.39,433.5) rotate(-90) scale(1.08,1)">15-Αυγ</text><text transform="translate(493.84,433.5) rotate(-90) scale(1.08,1)">18-Αυγ</text><text transform="translate(499.29,433.5) rotate(-90) scale(1.08,1)">22-Αυγ</text><text transform="translate(504.74,433.5) rotate(-90) scale(1.08,1)">26-Αυγ</text><text transform="translate(510.19,433.5) rotate(-90) scale(1.08,1)">29-Αυγ</text><text transform="translate(515.64,433.5) rotate(-90) scale(1.08,1)">04-Σεπ</text><text transform="translate(521.09,433.5) rotate(-90) scale(1.08,1)">08-Σεπ</text><text transform="translate(526.54,433.5) rotate(-90) scale(1.08,1)">12-Σεπ</text><text transform="translate(531.99,433.5) rotate(-90) scale(1.08,1)">15-Σεπ</text><text transform="translate(537.43,433.5) rotate(-90) scale(1.08,1)">19-Σεπ</text><text transform="translate(542.88,433.5) rotate(-90) scale(1.08,1)">23-Σεπ</text><text transform="translate(548.33,433.5) rotate(-90) scale(1.08,1)">26-Σεπ</text><text transform="translate(553.78,433.5) rotate(-90) scale(1.08,1)">01-Οκτ</text><text transform="translate(559.23,433.5) rotate(-90) scale(1.08,1)">05-Οκτ</text><text transform="translate(564.68,433.5) rotate(-90) scale(1.08,1)">09-Οκτ</text><text transform="translate(570.13,433.5) rotate(-90) scale(1.08,1)">13-Οκτ</text><text transform="translate(575.58,433.5) rotate(-90) scale(1.08,1)">17-Οκτ</text><text transform="translate(581.03,433.5) rotate(-90) scale(1.08,1)">21-Οκτ</text><text transform="translate(586.48,433.5) rotate(-90) scale(1.08,1)">25-Οκτ</text><text transform="translate(591.92,433.5) rotate(-90) scale(1.08,1)">29-Οκτ</text><text transform="translate(597.37,433.5) rotate(-90) scale(1.08,1)">03-Νοε</text><text transform="translate(602.82,433.5) rotate(-90) scale(1.08,1)">07-Νοε</text><text transform="translate(608.27,433.5) rotate(-90) scale(1.08,1)">10-Νοε</text><text transform="translate(613.72,433.5) rotate(-90) scale(1.08,1)">14-Νοε</text><text transform="translate(619.17,433.5) rotate(-90) scale(1.08,1)">18-Νοε</text><text transform="translate(624.62,433.5) rotate(-90) scale(1.08,1)">21-Νοε</text><text transform="translate(630.07,433.5) rotate(-90) scale(1.08,1)">25-Νοε</text><text transform="translate(635.52,433.5) rotate(-90) scale(1.08,1)">28-Νοε</text><text transform="translate(640.97,433.5) rotate(-90) scale(1.08,1)">03-Δεκ</text><text transform="translate(646.41,433.5) rotate(-90) scale(1.08,1)">06-Δεκ</text><text transform="translate(651.86,433.5) rotate(-90) scale(1.08,1)">10-Δεκ</text><text transform="translate(657.31,433.5) rotate(-90) scale(1.08,1)">13-Δεκ</text><text transform="translate(662.76,433.5) rotate(-90) scale(1.08,1)">17-Δεκ</text><text transform="translate(668.21,433.5) rotate(-90) scale(1.08,1)">20-Δεκ</text><text transform="translate(673.66,433.5) rotate(-90) scale(1.08,1)">23-Δεκ</text><text transform="translate(679.11,433.5) rotate(-90) scale(1.08,1)">27-Δεκ</text><text transform="translate(684.56,433.5) rotate(-90) scale(1.08,1)">02-Ιαν</text><text transform="translate(690.01,433.5) rotate(-90) scale(1.08,1)">06-Ιαν</text><text transform="translate(695.46,433.5) rotate(-90) scale(1.08,1)">10-Ιαν</text><text transform="translate(700.90,433.5) rotate(-90) scale(1.08,1)">14-Ιαν</text><text transform="translate(706.35,433.5) rotate(-90) scale(1.08,1)">18-Ιαν</text><text transform="translate(711.80,433.5) rotate(-90) scale(1.08,1)">22-Ιαν</text><text transform="translate(717.25,433.5) rotate(-90) scale(1.08,1)">26-Ιαν</text><text transform="translate(722.70,433.5) rotate(-90) scale(1.08,1)">01-Φεβ</text></g>
<g font-family="Liberation Sans, sans-serif" font-weight="bold" font-size="14" fill="#000" stroke="#000" stroke-width="0.3"><text transform="translate(118.3,371.0) rotate(-90)" textLength="49.0" lengthAdjust="spacingAndGlyphs">Σχετικός</text><text transform="translate(118.3,317.2) rotate(-90)" textLength="45.1" lengthAdjust="spacingAndGlyphs">Ρυθμός</text><text transform="translate(118.3,268.8) rotate(-90)" textLength="55.6" lengthAdjust="spacingAndGlyphs">Έκκρισης</text><text transform="translate(118.3,207.7) rotate(-90)" textLength="27.9" lengthAdjust="spacingAndGlyphs">Ιικού</text><text transform="translate(118.3,173.9) rotate(-90)" textLength="54.3" lengthAdjust="spacingAndGlyphs">Φορτίου</text></g>
<text x="442.5" y="496.2" font-family="Liberation Sans, sans-serif" font-weight="bold" font-size="12.5" fill="#000" text-anchor="middle" textLength="75.7" lengthAdjust="spacingAndGlyphs">Ημερομηνία</text>
</svg>
</body></html>
